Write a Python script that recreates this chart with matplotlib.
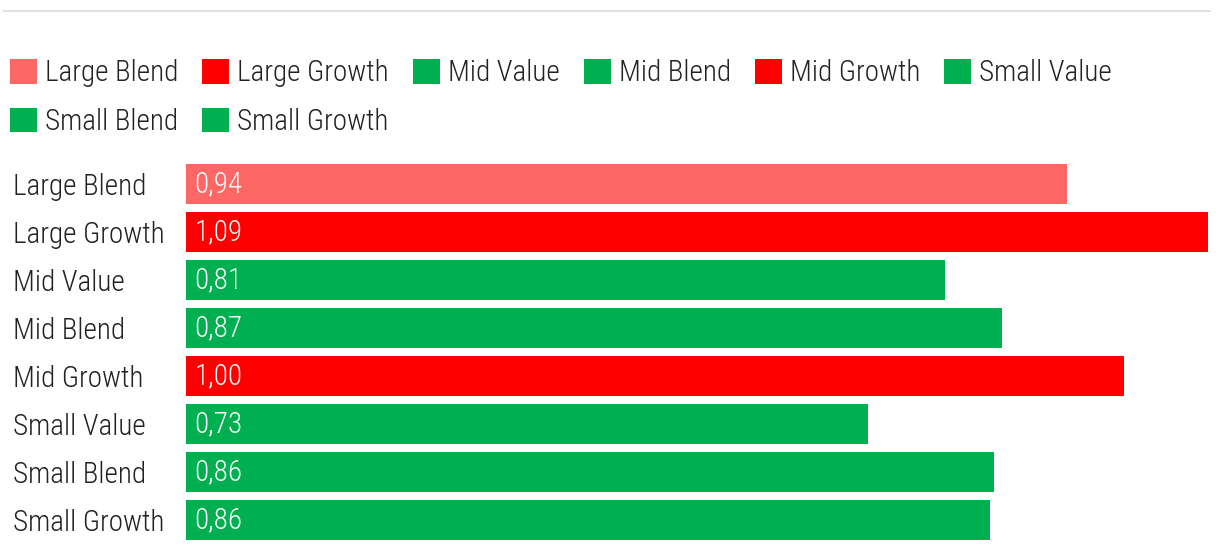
import matplotlib
matplotlib.use("Agg")
import matplotlib.pyplot as plt
from matplotlib import font_manager
from matplotlib.patches import Patch
from matplotlib.lines import Line2D

categories = ["Large Blend", "Large Growth", "Mid Value", "Mid Blend",
              "Mid Growth", "Small Value", "Small Blend", "Small Growth"]
values = [0.94, 1.09, 0.81, 0.87, 1.00, 0.727, 0.862, 0.858]
colors = ["#FF6666", "#FF0000", "#00B050", "#00B050",
          "#FF0000", "#00B050", "#00B050", "#00B050"]

avail = {f.name for f in font_manager.fontManager.ttflist}
family = "DejaVu Sans"
for cand in ["Roboto Condensed", "Liberation Sans Narrow", "Roboto", "Liberation Sans"]:
    if cand in avail:
        family = cand
        break
plt.rcParams["font.family"] = [family, "DejaVu Sans"]
plt.rcParams["font.weight"] = "light"

W, H = 1220, 552
fig = plt.figure(figsize=(W / 100, H / 100), dpi=100)
fs = 21
fpx = fs * 100 / 72
txt = "#222222"

left, right, top, bottom = 186, 1208, 164, 540
ax = fig.add_axes([left / W, 1 - bottom / H, (right - left) / W, (bottom - top) / H])
bh = 0.833
y = list(range(len(categories)))
ax.barh(y, values, height=bh, color=colors)
ax.set_xlim(0, max(values))
ax.set_ylim(len(categories) - 1 + bh / 2, -bh / 2)
for s in ax.spines.values():
    s.set_visible(False)
ax.set_xticks([])
ax.set_yticks(y)
ax.set_yticklabels(categories, fontsize=fs, color=txt, ha="left")
ax.tick_params(axis="y", length=0, pad=(left - 13) * 0.72)

for yi, v in zip(y, values):
    ax.annotate(f"{v:.2f}".replace(".", ","), (0, yi), xytext=(6, 0),
                textcoords="offset points", va="center", ha="left",
                color="white", fontsize=fs)

# legend, column-major order so it reads row-wise
order = [0, 6, 1, 7, 2, 3, 4, 5]
handles = [Patch(facecolor=colors[i], edgecolor="none") for i in order]
labels = [categories[i] for i in order]
fig.legend(handles, labels, ncol=6, loc="upper left",
           bbox_to_anchor=(10 / W, 1 - 59 / H), frameon=False,
           fontsize=fs, labelcolor=txt, borderpad=0, borderaxespad=0,
           handlelength=27 / fpx, handleheight=27 / fpx,
           handletextpad=8 / fpx, columnspacing=24 / fpx,
           labelspacing=0.69)

fig.add_artist(Line2D([4 / W, 1210 / W], [1 - 10.5 / H] * 2,
                      color="#e0e0e0", lw=1.5))

fig.savefig("out.png", dpi=100)
